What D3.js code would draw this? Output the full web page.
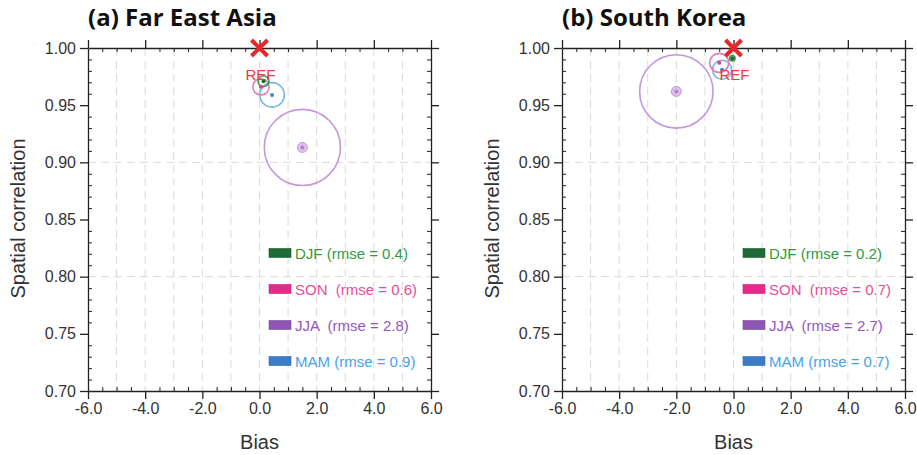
<!DOCTYPE html>
<html>
<head>
<meta charset="utf-8">
<script src="https://cdn.jsdelivr.net/npm/d3@7"></script>
<style>
	body { margin: 0; background: #fff; }
	text { font-family: "Liberation Sans", Arial, sans-serif; }
	.title { font-family: "Open Sans", "Noto Sans", sans-serif; font-weight: bold; }
	.legend { white-space: pre; }
</style>
</head>
<body>
<div id="chart-area"></div>
<script>
// Data
// ****
const seasons = ["DJF", "SON", "JJA", "MAM"]
const labelsFEA = ["DJF (rmse = 0.4)", "SON  (rmse = 0.6)", "JJA  (rmse = 2.8)", "MAM (rmse = 0.9)"]
const labelsSK = ["DJF (rmse = 0.2)", "SON  (rmse = 0.7)", "JJA  (rmse = 2.7)", "MAM (rmse = 0.7)"]
const rmseFEA = [0.4, 0.6, 2.8, 0.9]
const biasFEA = [0.14, 0.05, 1.5, 0.44]
const corrFEA = [0.971, 0.966, 0.913, 0.959]
const rmseSK = [0.2, 0.7, 2.7, 0.7]
const biasSK = [-0.04, -0.5, -2.0, -0.4]
const corrSK = [0.991, 0.987, 0.962, 0.981]
const xTicks = [-6, -4, -2, 0, 2, 4, 6]
const yTicks = [0.70, 0.75, 0.80, 0.85, 0.90, 0.95, 1.00]

// Config
// ******
const width = 917, height = 455
const plotW = 343, plotH = 343
const plotTop = 48
const boxColor = {DJF: "#1f6b35", SON: "#e6298a", JJA: "#8e55b5", MAM: "#3b7dc8"}
const textColor = {DJF: "#2e9a44", SON: "#e74d9c", JJA: "#9456c0", MAM: "#47a3e6"}
const ringColor = {DJF: "#3c9a4a", SON: "#e878b0", JJA: "#c496dc", MAM: "#70b8ec"}
const dotColor = {DJF: "#1f6b35", SON: "#e04090", JJA: "#b67fd2", MAM: "#3a86d6"}

const svg = d3.select("#chart-area")
	.append("svg")
		.attr("width", width)
		.attr("height", height)

const x_scale = d3.scaleLinear().domain([-6, 6]).range([0, plotW])
const y_scale = d3.scaleLinear().domain([0.70, 1.00]).range([plotH, 0])
const r_scale = d3.scaleLinear().domain([0, 1]).range([0, 13.6])

const xMinor = d3.range(-6, 6.01, 0.5).filter(v => Math.abs(v % 2) > 0.01)
const yMinor = d3.range(70, 100.5, 1).filter(v => v % 5 !== 0).map(v => v / 100)

drawPanel(88, "(a) Far East Asia", biasFEA, corrFEA, rmseFEA, labelsFEA, 181)
drawPanel(562, "(b) South Korea", biasSK, corrSK, rmseSK, labelsSK, 181)

// Panel
// *****
function drawPanel(left, title, bias, corr, rmse, labels, legendX) {
	const g = svg.append("g").attr("transform", "translate(" + left + ", " + plotTop + ")")

	// Grid
	g.selectAll(".vgrid").data(d3.range(-5, 6)).enter().append("line")
		.attr("x1", d => x_scale(d)).attr("x2", d => x_scale(d))
		.attr("y1", 0).attr("y2", plotH)
		.attr("stroke", "#dadada").attr("stroke-dasharray", "8,5")
	g.selectAll(".hgrid").data([0.8, 0.9]).enter().append("line")
		.attr("y1", d => y_scale(d)).attr("y2", d => y_scale(d))
		.attr("x1", 0).attr("x2", plotW)
		.attr("stroke", "#dadada").attr("stroke-dasharray", "8,5")

	// Axes
	const axes = [
		{ax: d3.axisBottom, sc: x_scale, tr: "translate(0," + plotH + ")", maj: xTicks, min: xMinor, lab: true},
		{ax: d3.axisTop, sc: x_scale, tr: "translate(0,0)", maj: xTicks, min: xMinor, lab: false},
		{ax: d3.axisLeft, sc: y_scale, tr: "translate(0,0)", maj: yTicks, min: yMinor, lab: true},
		{ax: d3.axisRight, sc: y_scale, tr: "translate(" + plotW + ",0)", maj: yTicks, min: yMinor, lab: false}
	]
	axes.forEach(a => {
		const fmt = a.sc === x_scale ? d3.format(".1f") : d3.format(".2f")
		g.append("g").attr("transform", a.tr)
			.call(a.ax(a.sc).tickValues(a.min).tickSize(-4).tickSizeOuter(0).tickFormat(""))
			.call(s => s.select(".domain").remove())
			.selectAll("line").attr("stroke", "#222")
		const major = g.append("g").attr("transform", a.tr)
			.call(a.ax(a.sc).tickValues(a.maj).tickSize(8).tickSizeOuter(0).tickPadding(4)
				.tickFormat(a.lab ? d => fmt(d).replace("−", "-") : ""))
		major.select(".domain").attr("stroke", "#222").attr("stroke-width", 1.3)
		major.selectAll(".tick line").attr("stroke", "#222").attr("stroke-width", 1.3)
		major.selectAll("text").attr("font-size", "16px").attr("fill", "#333")
	})

	// Labels
	g.append("text")
		.attr("class", "title")
		.attr("x", 0).attr("y", -22)
		.attr("font-size", "24px")
		.attr("fill", "#111")
		.text(title)
	g.append("text")
		.attr("x", plotW / 2).attr("y", plotH + 58)
		.attr("font-size", "20px").attr("text-anchor", "middle").attr("fill", "#333")
		.text("Bias")
	g.append("text")
		.attr("transform", "rotate(-90)")
		.attr("x", -plotH / 2 + 1).attr("y", -63)
		.attr("font-size", "20px").attr("text-anchor", "middle").attr("fill", "#333")
		.text("Spatial correlation")

	// Markers
	const data = seasons.map((s, i) => ({season: s, bias: bias[i], corr: corr[i], rmse: rmse[i]}))
	const order = ["JJA", "MAM", "SON", "DJF"].map(s => data.find(d => d.season === s))
	g.selectAll(".ring").data(order).enter().append("circle")
		.attr("cx", d => x_scale(d.bias)).attr("cy", d => y_scale(d.corr))
		.attr("r", d => r_scale(d.rmse))
		.attr("fill", "none").attr("stroke", d => ringColor[d.season]).attr("stroke-width", 1.6)
	g.selectAll(".dot").data(order).enter().append("circle")
		.attr("cx", d => x_scale(d.bias)).attr("cy", d => y_scale(d.corr))
		.attr("r", d => d.season === "JJA" ? 5 : 2)
		.attr("fill", d => d.season === "JJA" ? "#dcc0ea" : dotColor[d.season])
		.attr("stroke", d => d.season === "JJA" ? "#c496dc" : "none")
	g.selectAll(".jjaCore").data(order.filter(d => d.season === "JJA")).enter().append("circle")
		.attr("cx", d => x_scale(d.bias)).attr("cy", d => y_scale(d.corr))
		.attr("r", 2).attr("fill", "#b67fd2")

	// REF
	const rx = x_scale(0), ry = y_scale(1.0), k = 8
	g.append("path")
		.attr("d", "M" + (rx - k) + "," + (ry - k) + "L" + (rx + k) + "," + (ry + k) +
			"M" + (rx + k) + "," + (ry - k) + "L" + (rx - k) + "," + (ry + k))
		.attr("stroke", "#e8262a").attr("stroke-width", 4)
	g.append("text")
		.attr("x", rx + 1).attr("y", ry + 32)
		.attr("font-size", "15px").attr("text-anchor", "middle").attr("fill", "#ec3b3b")
		.text("REF")

	// Legend
	const legend = g.append("g").attr("transform", "translate(" + legendX + ", 205)")
	seasons.forEach((s, i) => {
		const row = legend.append("g").attr("transform", "translate(0, " + (i * 36) + ")")
		row.append("rect")
			.attr("width", 22).attr("height", 9).attr("y", -4.5)
			.attr("fill", boxColor[s]).attr("stroke", d3.color(boxColor[s]).darker(0.5)).attr("stroke-width", 0.6)
		row.append("text")
			.attr("class", "legend")
			.attr("x", 26).attr("y", 5.5)
			.attr("font-size", "15px").attr("fill", textColor[s])
			.text(labels[i])
	})
}
</script>
</body>
</html>
